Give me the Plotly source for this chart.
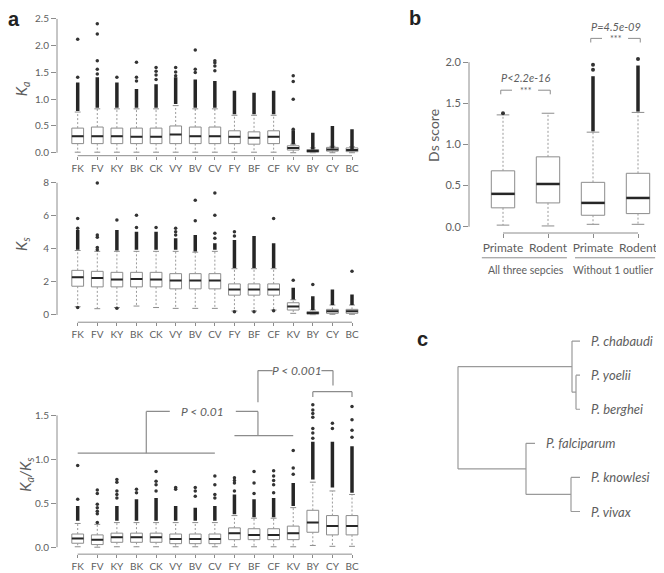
import plotly.graph_objects as go

# ---------------- data ----------------
categories = ["FK", "FV", "KY", "BK", "CK", "VY", "BV", "CV", "FY", "BF", "CF", "KV", "BY", "CY", "BC"]

# Ka
ka_q1 = [0.17, 0.17, 0.17, 0.17, 0.17, 0.17, 0.17, 0.17, 0.17, 0.16, 0.17, 0.05, 0.01, 0.03, 0.02]
ka_med = [0.31, 0.31, 0.31, 0.30, 0.30, 0.34, 0.31, 0.31, 0.30, 0.28, 0.30, 0.09, 0.03, 0.06, 0.05]
ka_q3 = [0.46, 0.48, 0.46, 0.46, 0.46, 0.50, 0.48, 0.48, 0.41, 0.39, 0.41, 0.13, 0.06, 0.10, 0.09]
ka_lo = [0.01, 0.01, 0.01, 0.01, 0.01, 0.01, 0.01, 0.01, 0.01, 0.01, 0.01, 0.00, 0.00, 0.00, 0.00]
ka_hi = [0.76, 0.82, 0.82, 0.82, 0.82, 0.88, 0.82, 0.82, 0.70, 0.70, 0.70, 0.16, 0.09, 0.12, 0.11]
ka_dense_lo = [0.78, 0.84, 0.84, 0.84, 0.84, 0.91, 0.84, 0.84, 0.72, 0.72, 0.72, 0.16, 0.06, 0.08, 0.07]
ka_dense_hi = [1.31, 1.41, 1.31, 1.19, 1.28, 1.41, 1.37, 1.34, 1.16, 1.12, 1.16, 0.42, 0.375, 0.50, 0.44]
ka_sparse = [[1.41, 2.12], [1.47, 1.56, 1.72, 2.22, 2.41], [1.41], [1.34, 1.41, 1.69],
             [1.37, 1.45, 1.52, 1.59], [1.44, 1.51, 1.59], [1.50, 1.56, 1.92], [1.53, 1.62, 1.68, 1.72],
             [], [], [], [0.44, 1.00, 1.33, 1.44], [], [], []]

# Ks
ks_q1 = [1.74, 1.70, 1.70, 1.70, 1.70, 1.58, 1.58, 1.58, 1.20, 1.20, 1.20, 0.30, 0.05, 0.10, 0.10]
ks_med = [2.28, 2.24, 2.14, 2.18, 2.14, 2.08, 2.08, 2.08, 1.54, 1.54, 1.54, 0.52, 0.12, 0.22, 0.22]
ks_q3 = [2.70, 2.64, 2.58, 2.58, 2.58, 2.50, 2.50, 2.50, 1.88, 1.88, 1.88, 0.74, 0.20, 0.34, 0.34]
ks_lo = [0.50, 0.38, 0.45, 0.54, 0.45, 0.40, 0.40, 0.40, 0.24, 0.24, 0.30, 0.10, 0.02, 0.04, 0.04]
ks_hi = [3.90, 3.85, 3.85, 3.85, 3.85, 3.85, 3.80, 3.85, 2.80, 2.80, 2.80, 0.92, 0.30, 0.60, 0.60]
ks_dense_lo = [3.94, None, 3.90, 3.94, 3.94, 3.94, 3.84, 3.94, 2.84, 2.84, 2.84, 0.94, 0.30, 0.60, 0.60]
ks_dense_hi = [5.14, None, 5.14, 5.04, 5.04, 4.64, 4.84, 4.34, 4.54, 4.78, 4.34, 1.64, 1.14, 1.54, 1.24]
ks_sparse = [[0.45, 5.24, 5.84], [3.94, 4.08, 4.70, 4.84, 7.98], [0.40, 5.74], [5.30, 6.04], [5.30],
             [4.84, 5.04, 5.24], [5.70, 6.94], [4.64, 4.94, 6.04, 7.38], [0.20, 4.78, 5.04], [0.20],
             [0.25, 5.84], [2.10], [1.84], [], [2.64]]

# Ka/Ks
kaks_q1 = [0.045, 0.03, 0.056, 0.056, 0.056, 0.04, 0.04, 0.04, 0.086, 0.086, 0.086, 0.086, 0.17, 0.14, 0.14]
kaks_med = [0.10, 0.086, 0.113, 0.113, 0.113, 0.094, 0.094, 0.094, 0.16, 0.14, 0.14, 0.16, 0.28, 0.24, 0.24]
kaks_q3 = [0.15, 0.14, 0.16, 0.16, 0.16, 0.15, 0.15, 0.15, 0.22, 0.21, 0.21, 0.24, 0.42, 0.36, 0.36]
kaks_lo = [0.005, 0.0, 0.005, 0.005, 0.005, 0.005, 0.005, 0.005, 0.005, 0.005, 0.005, 0.005, 0.02, 0.01, 0.01]
kaks_hi = [0.27, 0.26, 0.28, 0.28, 0.28, 0.28, 0.28, 0.28, 0.36, 0.33, 0.33, 0.45, 0.74, 0.64, 0.60]
kaks_dense_lo = [0.30, None, 0.30, 0.30, 0.30, 0.30, 0.30, 0.30, 0.376, 0.34, 0.34, 0.47, 0.77, 0.68, 0.62]
kaks_dense_hi = [0.47, None, 0.47, 0.545, 0.56, 0.47, 0.45, 0.47, 0.60, 0.545, 0.56, 0.73, 1.20, 1.20, 1.15]
kaks_sparse = [[0.545, 0.93], [0.28, 0.38, 0.41, 0.45, 0.49, 0.61, 0.65], [0.56, 0.60, 0.64, 0.74, 0.77],
               [0.62, 0.66], [0.64, 0.71, 0.75, 0.86], [0.66, 0.68], [0.58, 0.64, 0.68],
               [0.56, 0.60, 0.71, 0.81], [0.64, 0.73, 0.76, 0.79], [0.61, 0.73, 0.86],
               [0.62, 0.71, 0.76, 0.81, 0.87], [0.83, 0.90, 1.10],
               [1.24, 1.30, 1.35, 1.48, 1.52, 1.56, 1.62], [1.35, 1.41], [1.25, 1.33, 1.45, 1.60]]

# Ds score (panel b)
ds_groups = ["Primate", "Rodent", "Primate", "Rodent"]
ds_sets = ["All three sepcies", "Without 1 outlier"]
ds_q1 = [0.23, 0.29, 0.14, 0.16]
ds_med = [0.40, 0.52, 0.29, 0.35]
ds_q3 = [0.68, 0.85, 0.54, 0.65]
ds_lo = [0.02, 0.01, 0.03, 0.03]
ds_hi = [1.36, 1.38, 1.15, 1.39]
ds_dense_lo = [None, None, 1.16, 1.40]
ds_dense_hi = [None, None, 1.83, 1.96]
ds_sparse = [[1.38], [], [1.91, 1.97], [2.04]]
ds_pvalues = ["P&lt;2.2e-16", "P=4.5e-09"]

# Tree (panel c)
tree_nodes = ["root", "rodent", "yb", "primate", "kv",
              "P. chabaudi", "P. yoelii", "P. berghei", "P. falciparum", "P. knowlesi", "P. vivax"]
tree_parent = [None, "root", "rodent", "root", "primate",
               "rodent", "yb", "yb", "primate", "kv", "kv"]
tree_branch = [0.0, 1.14, 0.04, 0.68, 0.45, 0.08, 0.04, 0.04, 0.09, 0.09, 0.09]
tree_leaves = ["P. chabaudi", "P. yoelii", "P. berghei", "P. falciparum", "P. knowlesi", "P. vivax"]

# ---------------- style ----------------
OFF = 8            # page body margin of the html page
W, H = 664 - OFF, 573 - OFF
GRAY = "#8c8c8c"
WGRAY = "#9a9a9a"
TXT = "#5e5e5e"
DARK = "#262626"
FONT = "Lato, 'Open Sans', sans-serif"


def px_x(p):
    return (p - OFF) / W


def px_y(p):
    return 1 - (p - OFF) / H


def lin_range(pa, pb, v0, p0, v1, p1):
    s = (v1 - v0) / (p1 - p0)
    return [v0 + (pa - p0) * s, v0 + (pb - p0) * s]


fig = go.Figure()


def ref(n):
    return "" if n == 1 else str(n)


def add_boxes(n, pos, q1, med, q3, lo, hi, dlo, dhi, sparse, bw, capw, medw, dw, msize):
    xr, yr = "x" + ref(n), "y" + ref(n)
    wx, wy = [], []
    for p, a, b, c, d in zip(pos, q1, q3, lo, hi):
        wx += [p, p, None, p, p, None]
        wy += [b, d, None, a, c, None]
    fig.add_trace(go.Scatter(x=wx, y=wy, mode="lines", line=dict(color=WGRAY, width=1, dash="2px,2px"),
                             xaxis=xr, yaxis=yr, hoverinfo="skip", showlegend=False))
    cx, cy = [], []
    for p, c, d in zip(pos, lo, hi):
        cx += [p - capw, p + capw, None, p - capw, p + capw, None]
        cy += [c, c, None, d, d, None]
    fig.add_trace(go.Scatter(x=cx, y=cy, mode="lines", line=dict(color=GRAY, width=1),
                             xaxis=xr, yaxis=yr, hoverinfo="skip", showlegend=False))
    fig.add_trace(go.Box(x=pos, q1=q1, median=med, q3=q3, lowerfence=q1, upperfence=q3,
                         width=bw, fillcolor="white", line=dict(color=GRAY, width=1),
                         boxpoints=False, whiskerwidth=0, xaxis=xr, yaxis=yr,
                         hoverinfo="skip", showlegend=False))
    mx, my = [], []
    for p, m in zip(pos, med):
        mx += [p - bw / 2, p + bw / 2, None]
        my += [m, m, None]
    fig.add_trace(go.Scatter(x=mx, y=my, mode="lines", line=dict(color=DARK, width=medw),
                             xaxis=xr, yaxis=yr, hoverinfo="skip", showlegend=False))
    dx, dy = [], []
    for p, a, b in zip(pos, dlo, dhi):
        if a is None:
            continue
        dx += [p, p, None]
        dy += [a, b, None]
    fig.add_trace(go.Scatter(x=dx, y=dy, mode="lines", line=dict(color=DARK, width=dw),
                             xaxis=xr, yaxis=yr, hoverinfo="skip", showlegend=False))
    sx, sy = [], []
    for p, vals in zip(pos, sparse):
        for v in vals:
            sx.append(p)
            sy.append(v)
    fig.add_trace(go.Scatter(x=sx, y=sy, mode="markers", marker=dict(color="#333333", size=msize),
                             xaxis=xr, yaxis=yr, hoverinfo="skip", showlegend=False))


pos_a = list(range(len(categories)))
add_boxes(1, pos_a, ka_q1, ka_med, ka_q3, ka_lo, ka_hi, ka_dense_lo, ka_dense_hi, ka_sparse, 0.6, 0.15, 2, 3.5, 3.5)
add_boxes(2, pos_a, ks_q1, ks_med, ks_q3, ks_lo, ks_hi, ks_dense_lo, ks_dense_hi, ks_sparse, 0.6, 0.15, 2, 3.5, 3.5)
add_boxes(3, pos_a, kaks_q1, kaks_med, kaks_q3, kaks_lo, kaks_hi, kaks_dense_lo, kaks_dense_hi, kaks_sparse, 0.6, 0.15, 2, 3.5, 3.5)
pos_b = list(range(len(ds_groups)))
add_boxes(4, pos_b, ds_q1, ds_med, ds_q3, ds_lo, ds_hi, ds_dense_lo, ds_dense_hi, ds_sparse, 0.52, 0.14, 2.5, 3.5, 4)

# ---- tree ----
depth, yv = {}, {}
for name, par, bl in zip(tree_nodes, tree_parent, tree_branch):
    depth[name] = (depth[par] if par else 0.0) + bl
for i, leaf in enumerate(tree_leaves):
    yv[leaf] = float(i)
children = {n: [c for c, p in zip(tree_nodes, tree_parent) if p == n] for n in tree_nodes}
for name in reversed(tree_nodes):
    if children[name]:
        cys = [yv[c] for c in children[name]]
        yv[name] = (min(cys) + max(cys)) / 2
tx, ty = [], []
for name, par in zip(tree_nodes, tree_parent):
    if par:
        tx += [depth[par], depth[name], None]
        ty += [yv[name], yv[name], None]
    if children[name]:
        cys = [yv[c] for c in children[name]]
        tx += [depth[name], depth[name], None]
        ty += [min(cys), max(cys), None]
fig.add_trace(go.Scatter(x=tx, y=ty, mode="lines", line=dict(color=WGRAY, width=1.2),
                         xaxis="x5", yaxis="y5", hoverinfo="skip", showlegend=False))

annotations = []
for leaf in tree_leaves:
    annotations.append(dict(x=depth[leaf], y=yv[leaf], xref="x5", yref="y5", text="<i>" + leaf + "</i>",
                            showarrow=False, xanchor="left", yanchor="middle", xshift=9,
                            font=dict(family=FONT, size=13, color=TXT)))

# ---------------- axes ----------------
xr_a = lin_range(57, 362, 0, 77.7, 14, 352)
ax_common = dict(showgrid=False, zeroline=False, showline=False, ticks="outside",
                 tickcolor=GRAY, tickwidth=1, tickfont=dict(family=FONT, size=10, color=TXT))

layout_axes = {}
panels_a = [
    (1, (155, 12), (0, 152, 2.5, 17), [0, 0.5, 1.0, 1.5, 2.0, 2.5], ".1f"),
    (2, (323, 175), (0, 315.7, 8, 182.3), [0, 2, 4, 6, 8], "d"),
    (3, (557, 360), (0, 550, 1.5, 417), [0, 0.5, 1.0, 1.5], ".1f"),
]
shapes = []
for n, (pb, pt), (v0, p0, v1, p1), tv, tf in panels_a:
    layout_axes["xaxis" + ref(n)] = dict(ax_common, domain=[px_x(57), px_x(362)], range=xr_a,
                                         anchor="y" + ref(n), tickvals=pos_a, ticktext=categories,
                                         ticklen=3)
    layout_axes["yaxis" + ref(n)] = dict(ax_common, domain=[px_y(pb), px_y(pt)],
                                         range=lin_range(pb, pt, v0, p0, v1, p1),
                                         anchor="x" + ref(n), tickvals=tv, tickformat=tf, ticklen=5)
    shapes.append(dict(type="line", xref="x" + ref(n) + " domain", yref="y" + ref(n),
                       x0=0, x1=0, y0=tv[0], y1=tv[-1], line=dict(color=GRAY, width=1)))
    shapes.append(dict(type="line", xref="x" + ref(n), yref="y" + ref(n) + " domain",
                       x0=pos_a[0], x1=pos_a[-1], y0=0, y1=0, line=dict(color=GRAY, width=1)))

# panel b
layout_axes["xaxis4"] = dict(ax_common, domain=[px_x(469), px_x(662)], range=lin_range(469, 662, 0, 503, 3, 638),
                             anchor="y4", tickvals=pos_b, ticktext=ds_groups, ticklen=4,
                             tickfont=dict(family=FONT, size=12, color=TXT))
layout_axes["yaxis4"] = dict(ax_common, domain=[px_y(233), px_y(8)], range=lin_range(233, 8, 0, 226.7, 2, 60.7),
                             anchor="x4", tickvals=[0, 0.5, 1.0, 1.5, 2.0], tickformat=".1f", ticklen=5,
                             tickfont=dict(family=FONT, size=11, color=TXT))
shapes.append(dict(type="line", xref="x4 domain", yref="y4", x0=0, x1=0, y0=0, y1=2.0,
                   line=dict(color=GRAY, width=1)))
shapes.append(dict(type="line", xref="x4", yref="y4 domain", x0=0, x1=3, y0=0, y1=0,
                   line=dict(color=GRAY, width=1)))
# group underlines and labels
for (xa, xb), lab, xc in [((-0.47, 1.42), ds_sets[0], 0.5), ((1.6, 3.38), ds_sets[1], 2.45)]:
    shapes.append(dict(type="line", xref="x4", yref="paper", x0=xa, x1=xb, y0=px_y(258), y1=px_y(258),
                       line=dict(color=GRAY, width=1)))
    annotations.append(dict(x=xc, y=px_y(270), xref="x4", yref="paper", text=lab, showarrow=False,
                            xanchor="center", yanchor="middle", font=dict(family=FONT, size=10.5, color=TXT)))
# significance brackets b
for (xa, xb), yb, ytxt, ptxt in [((0, 1), 1.66, 1.82, ds_pvalues[0]), ((2, 3), 2.29, 2.44, ds_pvalues[1])]:
    mid = (xa + xb) / 2
    for x0, x1, xl in [(xa - 0.05, mid - 0.3, xa - 0.05), (mid + 0.28, xb + 0.05, xb + 0.05)]:
        shapes.append(dict(type="line", xref="x4", yref="y4", x0=x0, x1=x1, y0=yb, y1=yb,
                           line=dict(color=GRAY, width=1)))
        shapes.append(dict(type="line", xref="x4", yref="y4", x0=xl, x1=xl, y0=yb, y1=yb - 0.05,
                           line=dict(color=GRAY, width=1)))
    annotations.append(dict(x=mid, y=yb, xref="x4", yref="y4", text="***", showarrow=False,
                            xanchor="center", yanchor="middle", font=dict(family=FONT, size=9, color=TXT)))
    annotations.append(dict(x=mid, y=ytxt, xref="x4", yref="y4", text="<i>" + ptxt + "</i>", showarrow=False,
                            xanchor="center", yanchor="middle", font=dict(family=FONT, size=11, color=TXT)))

# brackets in Ka/Ks panel
br = [
    (0, 7, 1.07, 1.07), (3.5, 3.5, 1.07, 1.545), (3.5, 4.7, 1.545, 1.545), (8.07, 9.2, 1.545, 1.545),
    (9.2, 9.2, 1.545, 1.27), (8, 11, 1.27, 1.27),
    (9.2, 9.2, 1.65, 2.01), (9.2, 9.95, 2.01, 2.01), (12.44, 13.03, 2.01, 2.01), (13.03, 13.03, 2.01, 1.84),
    (12, 14, 1.77, 1.77), (12, 12, 1.77, 1.71), (14, 14, 1.77, 1.71),
]
for x0, x1, y0, y1 in br:
    shapes.append(dict(type="line", xref="x3", yref="y3", x0=x0, x1=x1, y0=y0, y1=y1,
                       line=dict(color=GRAY, width=1.2)))
annotations.append(dict(x=6.38, y=1.545, xref="x3", yref="y3", text="<i>P &lt; 0.01</i>", showarrow=False,
                        font=dict(family=FONT, size=12, color=TXT)))
annotations.append(dict(x=11.2, y=2.01, xref="x3", yref="y3", text="<i>P &lt; 0.001</i>", showarrow=False,
                        font=dict(family=FONT, size=12, color=TXT)))

# panel c axes
layout_axes["xaxis5"] = dict(domain=[px_x(440), px_x(664)], range=lin_range(440, 664, 0, 458, 1.22, 580),
                             visible=False, anchor="y5")
layout_axes["yaxis5"] = dict(domain=[px_y(530), px_y(325)], range=lin_range(530, 325, 0, 342, 5, 514),
                             visible=False, anchor="x5")

# axis titles and panel letters
for txt, x, y, size in [("<i>K<sub>a</sub></i>", 22, 88, 15), ("<i>K<sub>s</sub></i>", 22, 245, 15),
                        ("<i>K<sub>a</sub>/K<sub>s</sub></i>", 26, 477, 15), ("Ds score", 434, 135, 14)]:
    annotations.append(dict(x=px_x(x), y=px_y(y), xref="paper", yref="paper", text=txt, textangle=-90,
                            showarrow=False, xanchor="center", yanchor="middle",
                            font=dict(family=FONT, size=size, color=TXT)))
for txt, x, y in [("a", 14, 17), ("b", 415, 16), ("c", 422, 340)]:
    annotations.append(dict(x=px_x(x), y=px_y(y), xref="paper", yref="paper", text="<b>" + txt + "</b>",
                            showarrow=False, xanchor="center", yanchor="middle",
                            font=dict(family="Liberation Sans, Arial, sans-serif", size=20, color="#222222")))

fig.update_layout(width=W, height=H, autosize=False, margin=dict(l=0, r=0, t=0, b=0),
                  paper_bgcolor="white", plot_bgcolor="white", showlegend=False,
                  shapes=shapes, annotations=annotations, font=dict(family=FONT), **layout_axes)

fig.write_html("out.html")
